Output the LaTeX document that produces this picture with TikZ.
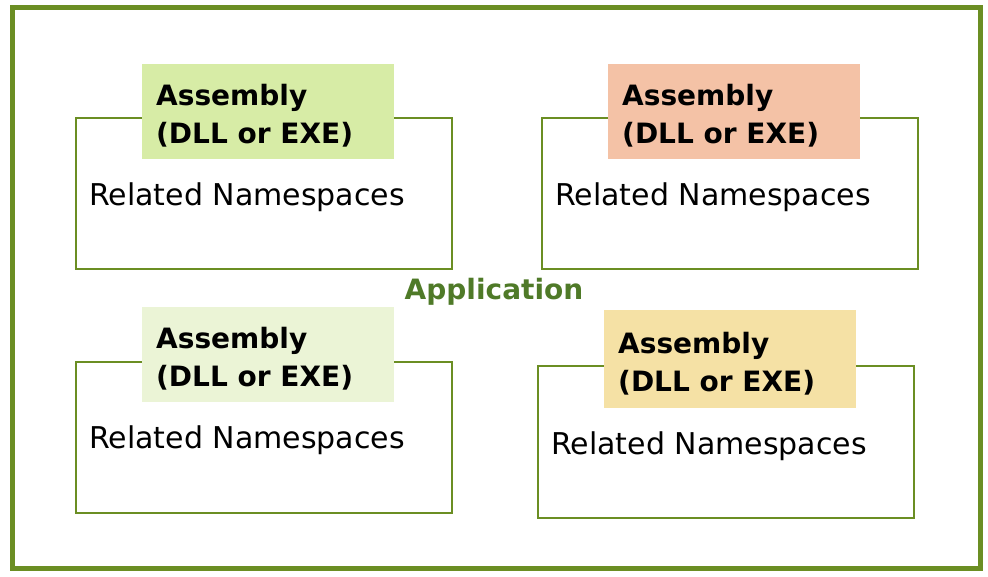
\documentclass[tikz,border=0pt]{standalone}
\usepackage{fontspec}
\setmainfont{DejaVu Sans}
\definecolor{framegreen}{RGB}{107,142,35}
\definecolor{apptext}{RGB}{79,122,40}
\definecolor{fillA}{RGB}{215,236,166}
\definecolor{fillB}{RGB}{244,194,166}
\definecolor{fillC}{RGB}{235,244,214}
\definecolor{fillD}{RGB}{245,225,165}
\begin{document}
\begin{tikzpicture}[x=1pt,y=-1pt,
  frame/.style={draw=framegreen, line width=5pt},
  nsbox/.style={draw=framegreen, line width=2pt, minimum width=376pt, minimum height=151pt, anchor=north west, inner sep=0pt},
  asmbox/.style={minimum width=252pt, minimum height=95pt, anchor=north west, inner sep=0pt},
  asmtext/.style={anchor=base west, font=\fontsize{28}{34}\selectfont\bfseries, inner sep=0pt},
  nstext/.style={anchor=base west, font=\fontsize{30}{36}\selectfont, inner sep=0pt}]
\useasboundingbox (0,0) rectangle (988,576);
\draw[frame] (12,7) rectangle (980,568);
\node[anchor=base, font=\fontsize{28}{34}\selectfont\bfseries, text=apptext, inner sep=0pt] (app) at (494,299) {Application};
% box 1
\node[nsbox] (ns1) at (75,117) {};
\node[asmbox, fill=fillA] (asm1) at (142,64) {};
\node[asmtext] (a1a) at (156,105) {Assembly};
\node[asmtext] (a1b) at (156,143) {(DLL or EXE)};
\node[nstext] (t1) at (89,205) {Related Namespaces};
% box 2
\node[nsbox] (ns2) at (541,117) {};
\node[asmbox, fill=fillB] (asm2) at (608,64) {};
\node[asmtext] (a2a) at (622,105) {Assembly};
\node[asmtext] (a2b) at (622,143) {(DLL or EXE)};
\node[nstext] (t2) at (555,205) {Related Namespaces};
% box 3
\node[nsbox] (ns3) at (75,361) {};
\node[asmbox, fill=fillC] (asm3) at (142,307) {};
\node[asmtext] (a3a) at (156,348) {Assembly};
\node[asmtext] (a3b) at (156,386) {(DLL or EXE)};
\node[nstext] (t3) at (89,448) {Related Namespaces};
% box 4
\node[nsbox, minimum height=152pt] (ns4) at (537,365) {};
\node[asmbox, fill=fillD, minimum height=98pt] (asm4) at (604,310) {};
\node[asmtext] (a4a) at (618,353) {Assembly};
\node[asmtext] (a4b) at (618,391) {(DLL or EXE)};
\node[nstext] (t4) at (551,454) {Related Namespaces};
\end{tikzpicture}
\end{document}
